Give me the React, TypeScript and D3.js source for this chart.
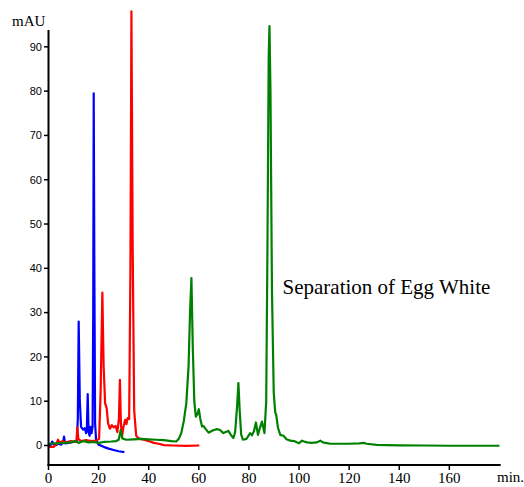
import React from "react";
import * as d3 from "d3";

// chromatogram traces, [minutes, mAU]
const blueTrace: [number, number][] = [
  [0, 0], [1, 0.2], [1.5, 0.9], [2, 0.3], [3, 0.1], [4, 0.4], [5, 0.2], [5.8, 0.6],
  [6.2, 2.0], [6.6, 0.5], [8, 0.6], [10, 0.8], [11.3, 0.9], [11.7, 6], [12.05, 28],
  [12.5, 10], [13, 4.2], [13.8, 3.6], [14.5, 3.9], [15, 2.8], [15.3, 3.5], [15.65, 11.6],
  [16, 3], [16.4, 2.2], [16.8, 4.2], [17.2, 2.8], [17.6, 4.3], [17.85, 30], [18.05, 79.5],
  [18.3, 40], [18.6, 5], [19, 1.2], [20, 0.2], [22, -0.3], [24, -0.7], [26, -1.0],
  [28, -1.3], [30.3, -1.5]
];

const redTrace: [number, number][] = [
  [0, -0.3], [2, -0.3], [3, 0.2], [3.8, 1.3], [4.5, 0.6], [5.5, 1.0], [7, 0.7], [9, 1.0],
  [10.5, 0.8], [11.2, 1.2], [11.5, 4.1], [11.9, 1.5], [13, 1.0], [15, 1.2], [17, 1.0],
  [19, 1.1], [20.2, 1.5], [20.8, 12], [21.5, 34.5], [22, 18], [22.6, 9.5], [23.2, 8.5],
  [23.8, 5], [24.5, 3.8], [25.3, 4.6], [26, 4.1], [26.8, 4.4], [27.5, 3.0], [28.1, 6],
  [28.5, 14.8], [28.9, 5], [29.3, 1.8], [29.9, 4.2], [30.6, 5.8], [31.1, 4.8], [31.6, 6.2],
  [32.2, 6], [32.7, 40], [33.1, 98], [33.6, 45], [34.2, 8], [35, 2.2], [36, 1.6], [38, 1.3],
  [40, 1.0], [42, 0.6], [44, 0.4], [46, 0.1], [50, 0], [55, -0.1], [60.2, 0]
];

const greenTrace: [number, number][] = [
  [0, 0.4], [3, 0.5], [6, 0.6], [9, 0.7], [10.5, 1.0], [12, 0.6], [14, 1.0], [16, 0.7],
  [18, 0.8], [20, 0.6], [22, 0.8], [25, 0.9], [27, 1.0], [28, 1.3], [28.8, 3.4], [29.5, 1.6],
  [31, 1.3], [34, 1.4], [37, 1.5], [40, 1.4], [43, 1.3], [46, 1.2], [49, 1.0], [51, 0.9],
  [52, 1.5], [53, 2.8], [54, 5.5], [55, 9.5], [55.9, 17.8], [56.5, 30], [57.05, 37.8],
  [57.6, 22], [58.2, 10], [58.8, 6.5], [59.5, 7.2], [60, 8.2], [60.6, 6], [61.3, 4.3],
  [61.9, 4.4], [62.6, 3.8], [63.9, 2.9], [65.5, 3.4], [67.2, 3.7], [68.5, 3.5], [69.8, 2.8],
  [71, 3.1], [71.8, 3.3], [72.8, 2.4], [73.8, 1.7], [74.5, 3], [75.3, 9], [75.8, 14.1],
  [76.3, 8], [76.9, 2.5], [77.6, 1.3], [79, 1.5], [80.5, 2.8], [81.2, 2.3], [82, 3.2],
  [82.8, 5.2], [83.6, 2.4], [84.4, 4], [85.2, 5.4], [86.2, 2.8], [86.9, 10], [87.4, 45],
  [87.9, 88], [88.2, 94.7], [88.6, 80], [89.2, 35], [89.9, 12], [90.5, 7.5], [90.9, 6.9],
  [91.6, 4], [92.5, 2.4], [93.8, 2.2], [95, 1.4], [96.5, 1.1], [98, 1.0], [100, 0.5],
  [101.2, 1.1], [102, 0.9], [103.2, 0.7], [105, 0.6], [107, 0.7], [108.5, 1.1], [109.5, 0.7],
  [110.5, 0.6], [112.5, 0.4], [116, 0.4], [120, 0.4], [124, 0.5], [125.8, 0.6], [127, 0.4],
  [131, 0.16], [140, 0.05], [150, 0], [160, -0.05], [170, -0.05], [180, -0.05]
];

const yTicks = [0, 10, 20, 30, 40, 50, 60, 70, 80, 90];
const xTicks = [0, 20, 40, 60, 80, 100, 120, 140, 160];

const width = 524;
const height = 487;

export default function App() {
  const x = d3.scaleLinear().domain([0, 180.5]).range([48.5, 500.7]);
  const y = d3.scaleLinear().domain([-4.4, 93.8]).range([465, 30]);

  const line = d3
    .line<[number, number]>()
    .x((d) => x(d[0]))
    .y((d) => y(d[1]));

  const traces = [
    { data: blueTrace, color: "#0000ff" },
    { data: redTrace, color: "#ff0000" },
    { data: greenTrace, color: "#008000" }
  ];

  return (
    <svg
      width={width}
      height={height}
      style={{ position: "absolute", left: 0, top: 0, background: "white" }}
    >
      {traces.map((t, i) => (
        <path
          key={i}
          d={line(t.data) || ""}
          fill="none"
          stroke={t.color}
          strokeWidth={2.2}
          strokeLinejoin="round"
        />
      ))}

      {/* y axis */}
      <line x1={48.5} y1={30} x2={48.5} y2={466} stroke="black" strokeWidth={2} />
      {yTicks.map((v) => (
        <g key={v}>
          <line x1={44} y1={y(v)} x2={48.5} y2={y(v)} stroke="black" strokeWidth={1.5} />
          <text
            x={42}
            y={y(v)}
            dy="0.35em"
            textAnchor="end"
            fontFamily="Liberation Sans, Arial, sans-serif"
            fontSize={11}
          >
            {v}
          </text>
        </g>
      ))}
      <text x={12} y={26} fontFamily="Liberation Serif, Times New Roman, serif" fontSize={15}>
        mAU
      </text>

      {/* x axis */}
      <line x1={47.5} y1={465} x2={500.7} y2={465} stroke="black" strokeWidth={2} />
      {xTicks.map((v) => (
        <g key={v}>
          <line x1={x(v)} y1={465} x2={x(v)} y2={470} stroke="black" strokeWidth={1.5} />
          <text
            x={x(v)}
            y={483}
            textAnchor="middle"
            fontFamily="Liberation Serif, Times New Roman, serif"
            fontSize={15}
          >
            {v}
          </text>
        </g>
      ))}
      <text x={497} y={482} fontFamily="Liberation Serif, Times New Roman, serif" fontSize={15}>
        min.
      </text>

      <text x={282.5} y={294} fontFamily="Liberation Serif, Times New Roman, serif" fontSize={21}>
        Separation of Egg White
      </text>
    </svg>
  );
}
